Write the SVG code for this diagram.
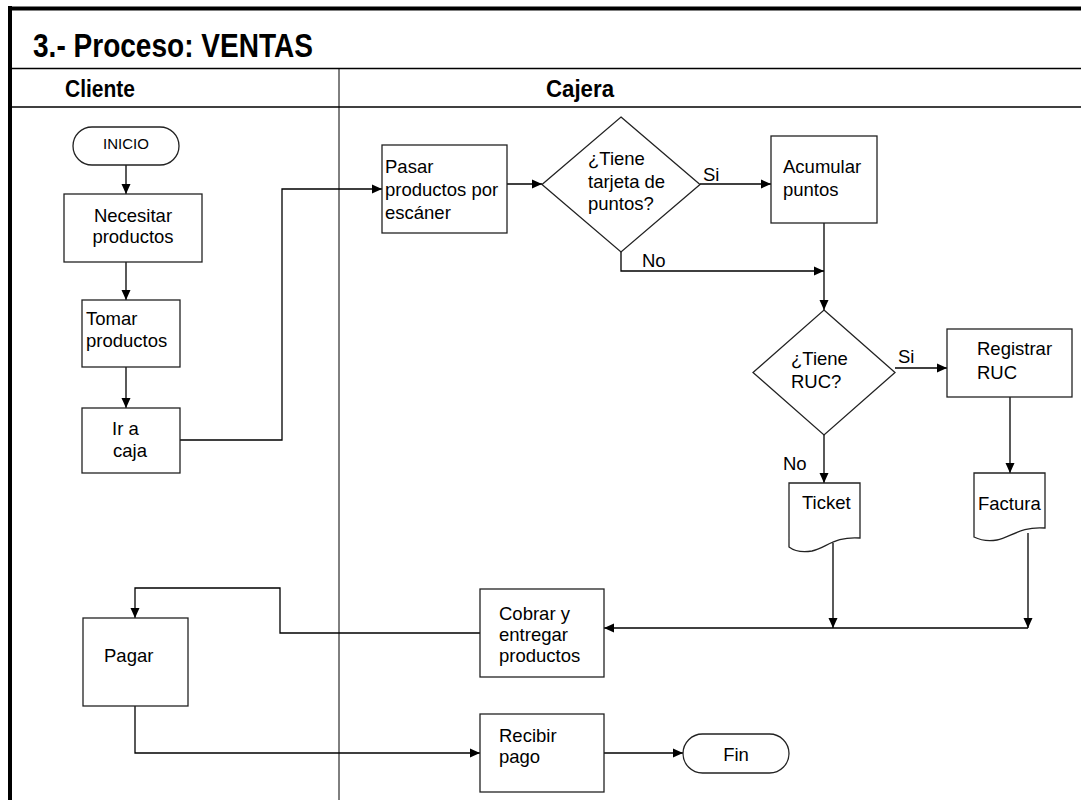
<svg xmlns="http://www.w3.org/2000/svg" width="1083" height="800" viewBox="0 0 1083 800">
  <style>
    .frame { stroke: #000; fill: none; }
    .box { fill: #fff; stroke: #222; stroke-width: 1.3; }
    .edge { fill: none; stroke: #000; stroke-width: 1.3; }
    text { font-family: "Liberation Sans", Arial, sans-serif; fill: #000; }
    .t { font-size: 18.5px; }
    .hdr { font-weight: bold; font-size: 23.5px; }
    .title { font-weight: bold; font-size: 33px; }
    .mid { text-anchor: middle; }
  </style>
  <defs>
    <marker id="arrow" markerUnits="userSpaceOnUse" markerWidth="10" markerHeight="10" viewBox="0 0 10 10" refX="10" refY="5" orient="auto">
      <path d="M0,0.5 L10,5 L0,9.5 Z" fill="#000"/>
    </marker>
  </defs>

  <rect width="1083" height="800" fill="#fff"/>

  <!-- outer frame, title band and swimlanes -->
  <g id="frame">
    <line class="frame" x1="10" y1="6" x2="10" y2="800" stroke-width="4"/>
    <line class="frame" x1="8" y1="8.5" x2="1081" y2="8.5" stroke-width="4"/>
    <line class="frame" x1="10" y1="68.5" x2="1081" y2="68.5" stroke-width="1.6" stroke="#222"/>
    <line class="frame" x1="10" y1="107" x2="1081" y2="107" stroke-width="1.6" stroke="#222"/>
    <line class="frame" x1="339" y1="68" x2="339" y2="800" stroke-width="1"/>
    <text class="title" x="33" y="57" textLength="280" lengthAdjust="spacingAndGlyphs">3.- Proceso: VENTAS</text>
    <text class="hdr" x="65" y="97" textLength="70" lengthAdjust="spacingAndGlyphs">Cliente</text>
    <text class="hdr" x="546" y="97" textLength="68" lengthAdjust="spacingAndGlyphs">Cajera</text>
  </g>

  <!-- connectors -->
  <g id="connectors">
    <path class="edge" d="M126,165 V194" marker-end="url(#arrow)"/>
    <path class="edge" d="M126,262 V300" marker-end="url(#arrow)"/>
    <path class="edge" d="M126,367 V408" marker-end="url(#arrow)"/>
    <path class="edge" d="M180,440 H282 V189 H382" marker-end="url(#arrow)"/>
    <path class="edge" d="M507,184 H542" marker-end="url(#arrow)"/>
    <path class="edge" d="M700,184 H771" marker-end="url(#arrow)"/>
    <path class="edge" d="M621,252 V271 H824" marker-end="url(#arrow)"/>
    <path class="edge" d="M824,223 V310" marker-end="url(#arrow)"/>
    <path class="edge" d="M895,368 H947" marker-end="url(#arrow)"/>
    <path class="edge" d="M824,435 V483" marker-end="url(#arrow)"/>
    <path class="edge" d="M1010,397 V473" marker-end="url(#arrow)"/>
    <path class="edge" d="M833,543 V628" marker-end="url(#arrow)"/>
    <path class="edge" d="M1028,533 V628" marker-end="url(#arrow)"/>
    <path class="edge" d="M1028,628 H604" marker-end="url(#arrow)"/>
    <path class="edge" d="M480,633 H280 V588 H135 V618" marker-end="url(#arrow)"/>
    <path class="edge" d="M135,706 V753 H480" marker-end="url(#arrow)"/>
    <path class="edge" d="M604,753 H683" marker-end="url(#arrow)"/>
    <text class="t" x="703" y="181">Si</text>
    <text class="t" x="642" y="267">No</text>
    <text class="t" x="898" y="363">Si</text>
    <text class="t" x="783" y="470">No</text>
  </g>

  <!-- Cliente lane -->
  <g id="inicio">
    <rect class="box" x="73" y="127" width="106" height="38" rx="19"/>
    <text class="mid" x="126" y="149" font-size="15">INICIO</text>
  </g>
  <g id="necesitar">
    <rect class="box" x="64" y="194" width="138" height="68"/>
    <text class="t mid" x="133" y="222">Necesitar</text>
    <text class="t mid" x="133" y="243">productos</text>
  </g>
  <g id="tomar">
    <rect class="box" x="82" y="300" width="98" height="67"/>
    <text class="t" x="86" y="325">Tomar</text>
    <text class="t" x="86" y="347">productos</text>
  </g>
  <g id="ir-caja">
    <rect class="box" x="82" y="408" width="98" height="65"/>
    <text class="t" x="112" y="435">Ir a</text>
    <text class="t" x="113" y="457">caja</text>
  </g>
  <g id="pagar">
    <rect class="box" x="83" y="618" width="105" height="88"/>
    <text class="t" x="104" y="662">Pagar</text>
  </g>

  <!-- Cajera lane -->
  <g id="pasar">
    <rect class="box" x="382" y="145" width="125" height="88"/>
    <text class="t" x="385" y="173">Pasar</text>
    <text class="t" x="385" y="196">productos por</text>
    <text class="t" x="385" y="219">escáner</text>
  </g>
  <g id="tarjeta">
    <path class="box" d="M621,117 L700,184.5 L621,252 L542,184.5 Z"/>
    <text class="t" x="588" y="165">¿Tiene</text>
    <text class="t" x="588" y="188">tarjeta de</text>
    <text class="t" x="588" y="210">puntos?</text>
  </g>
  <g id="acumular">
    <rect class="box" x="771" y="136" width="106" height="87"/>
    <text class="t" x="783" y="173">Acumular</text>
    <text class="t" x="783" y="196">puntos</text>
  </g>
  <g id="ruc">
    <path class="box" d="M824,310 L895,372.5 L824,435 L753,372.5 Z"/>
    <text class="t" x="791" y="365">¿Tiene</text>
    <text class="t" x="791" y="388">RUC?</text>
  </g>
  <g id="registrar">
    <rect class="box" x="947" y="329" width="125" height="68"/>
    <text class="t" x="977" y="355">Registrar</text>
    <text class="t" x="977" y="379">RUC</text>
  </g>
  <g id="ticket">
    <path class="box" d="M789,483 H860 V538 C835,536 826,548 812,551 C800,553 793,550 789,547 Z"/>
    <text class="t" x="802" y="509">Ticket</text>
  </g>
  <g id="factura">
    <path class="box" d="M974,473 H1045 V528 C1020,526 1010,538 997,540 C985,542 978,539 974,537 Z"/>
    <text class="t" x="978" y="510">Factura</text>
  </g>
  <g id="cobrar">
    <rect class="box" x="480" y="589" width="124" height="88"/>
    <text class="t" x="499" y="620">Cobrar y</text>
    <text class="t" x="499" y="641">entregar</text>
    <text class="t" x="499" y="662">productos</text>
  </g>
  <g id="recibir">
    <rect class="box" x="480" y="714" width="124" height="78"/>
    <text class="t" x="499" y="742">Recibir</text>
    <text class="t" x="499" y="763">pago</text>
  </g>
  <g id="fin">
    <rect class="box" x="683" y="734" width="106" height="39" rx="19.5"/>
    <text class="t mid" x="736" y="761">Fin</text>
  </g>
</svg>
